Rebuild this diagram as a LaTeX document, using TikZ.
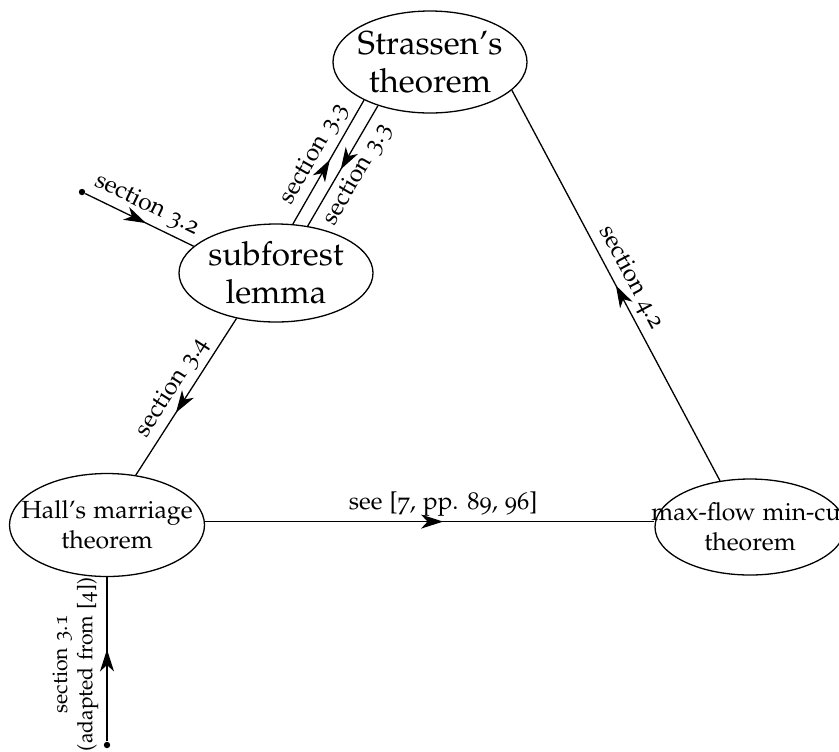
\documentclass[tikz,border=0pt]{standalone}
\usepackage[T1]{fontenc}
\usepackage[osf]{mathpazo}
\usetikzlibrary{shapes.geometric,arrows.meta,decorations.markings}
\tikzset{
  ell/.style={draw, ellipse, inner sep=0pt, line width=0.65pt},
  big/.style={font=\fontsize{16.6}{19}\selectfont, align=center, inner sep=0pt},
  med/.style={font=\fontsize{12.4}{15}\selectfont, align=center, inner sep=0pt},
  lab/.style={font=\fontsize{12.2}{13.5}\selectfont, sloped, inner sep=2.5pt},
  smalllab/.style={font=\fontsize{10.6}{12.6}\selectfont, sloped, inner sep=4pt, align=center},
  edge/.style={line width=0.65pt},
  fwd/.style={postaction={decorate}, decoration={markings, mark=at position #1 with {\arrow{Stealth[length=11pt,width=7pt,inset=3.2pt]}}}},
  bwd/.style={postaction={decorate}, decoration={markings, mark=at position #1 with {\arrowreversed{Stealth[length=11pt,width=7pt,inset=3.2pt]}}}},
  dot/.style={circle, fill, inner sep=0pt, minimum size=3.2pt},
}
\begin{document}
\begin{tikzpicture}[x=0.5pt, y=-0.5pt]
\useasboundingbox (0,0) rectangle (839,751);
\node[ell, minimum width=97pt, minimum height=51pt, label={[big]center:Strassen's\\theorem}] (str) at (430,62) {};
\node[ell, minimum width=97pt, minimum height=49pt, label={[big]center:subforest\\lemma}] (sub) at (276,273) {};
\node[ell, minimum width=97.5pt, minimum height=51.5pt, label={[med]center:Hall's marriage\\theorem}] (hall) at (107,525) {};
\node[ell, minimum width=95pt, minimum height=48pt, label={[med]center:max-flow min-cut\\theorem}] (mf) at (750,527) {};
\node[dot] (d1) at (82,192) {};
\node[dot] (d2) at (107,745) {};
\draw[edge, fwd=0.56] (d1) -- (sub.162) node[lab, midway, above] {section 3.2};
\draw[edge, fwd=0.52] (sub.71) -- (str.210) node[lab, midway, above] {section 3.3};
\draw[edge, bwd=0.47] (sub.56) -- (str.220) node[lab, midway, below] {section 3.3};
\draw[edge, bwd=0.40] (hall.60) -- (sub.229) node[lab, midway, above] {section 3.4};
\draw[edge, fwd=0.53] (hall.2) -- (hall.2 -| mf.west) node[lab, pos=0.53, above] {see [7, pp. 89, 96]};
\draw[edge, bwd=0.5] (str.341) -- (mf.123) node[lab, midway, above] {section 4.2};
\draw[edge, fwd=0.56] (d2) -- (hall.south) node[smalllab, pos=0.47, above] {section 3.1\\(adapted from [4])};
\end{tikzpicture}
\end{document}
